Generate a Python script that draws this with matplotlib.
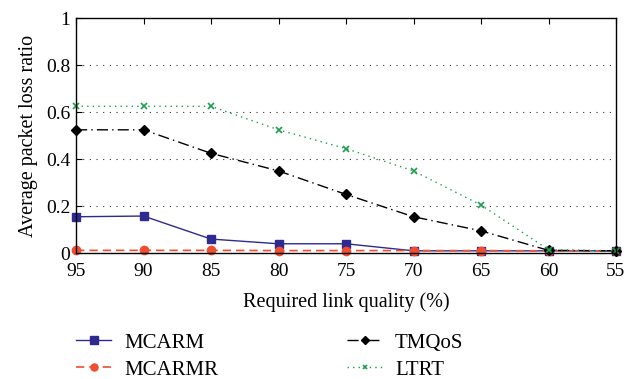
import matplotlib
matplotlib.use("Agg")
import matplotlib.pyplot as plt

x = [95, 90, 85, 80, 75, 70, 65, 60, 55]
mcarm = [0.155, 0.158, 0.06, 0.04, 0.04, 0.01, 0.01, 0.01, 0.01]
mcarmr = [0.012, 0.012, 0.012, 0.011, 0.011, 0.011, 0.011, 0.01, 0.01]
tmqos = [0.525, 0.525, 0.425, 0.35, 0.25, 0.155, 0.095, 0.012, 0.01]
ltrt = [0.625, 0.625, 0.625, 0.525, 0.445, 0.35, 0.205, 0.015, 0.01]
yticks = [0, 0.2, 0.4, 0.6, 0.8, 1]
ylabels = ["0", "0.2", "0.4", "0.6", "0.8", "1"]

plt.rcParams['font.family'] = ['Liberation Serif', 'DejaVu Serif']
fig = plt.figure(figsize=(6.39, 3.79), dpi=100)
ax = fig.add_axes([0.119, 0.332, 0.845, 0.62])

l1, = ax.plot(x, mcarm, color='#2e2a8f', lw=1.0, marker='s', ms=6, label='MCARM', clip_on=False)
l2, = ax.plot(x, mcarmr, color='#f04e30', lw=1.2, ls=(0, (5, 3)), marker='o', ms=6, label='MCARMR', clip_on=False)
l3, = ax.plot(x, tmqos, color='black', lw=1.0, ls=(0, (8, 3, 1, 3)), marker='D', ms=5, label='TMQoS', clip_on=False)
l4, = ax.plot(x, ltrt, color='#1aa050', lw=1.0, ls=(0, (1, 3)), marker='x', ms=4, mew=1.2, label='LTRT', clip_on=False)

ax.set_xlim(95, 55)
ax.set_ylim(0, 1)
ax.set_xticks(x)
ax.set_xticklabels([str(v) for v in x], fontsize=14)
ax.set_yticks(yticks)
ax.set_yticklabels(ylabels, fontsize=14)
for y in yticks[1:-1]:
    ax.axhline(y, color='#333333', lw=0.8, ls=(0, (1, 5)), zorder=0)
ax.tick_params(direction='in', top=True, right=False, length=4)
ax.tick_params(axis='x', pad=7)
ax.tick_params(axis='y', pad=4)
ax.set_xlabel('Required link quality (%)', fontsize=14.5, labelpad=9)
ax.set_ylabel('Average packet loss ratio', fontsize=14.5, labelpad=6)
for s in ax.spines.values():
    s.set_linewidth(1.0)

fig.legend(handles=[l1, l2, l3, l4], labels=['MCARM', 'MCARMR', 'TMQoS', 'LTRT'],
           loc='upper left', bbox_to_anchor=(0.119, 0.121), ncol=2, frameon=False,
           fontsize=15, columnspacing=6.2, handlelength=1.7, handletextpad=0.6,
           labelspacing=0.35, borderpad=0, borderaxespad=0, markerscale=0.85)

fig.savefig('out.png', dpi=100)
